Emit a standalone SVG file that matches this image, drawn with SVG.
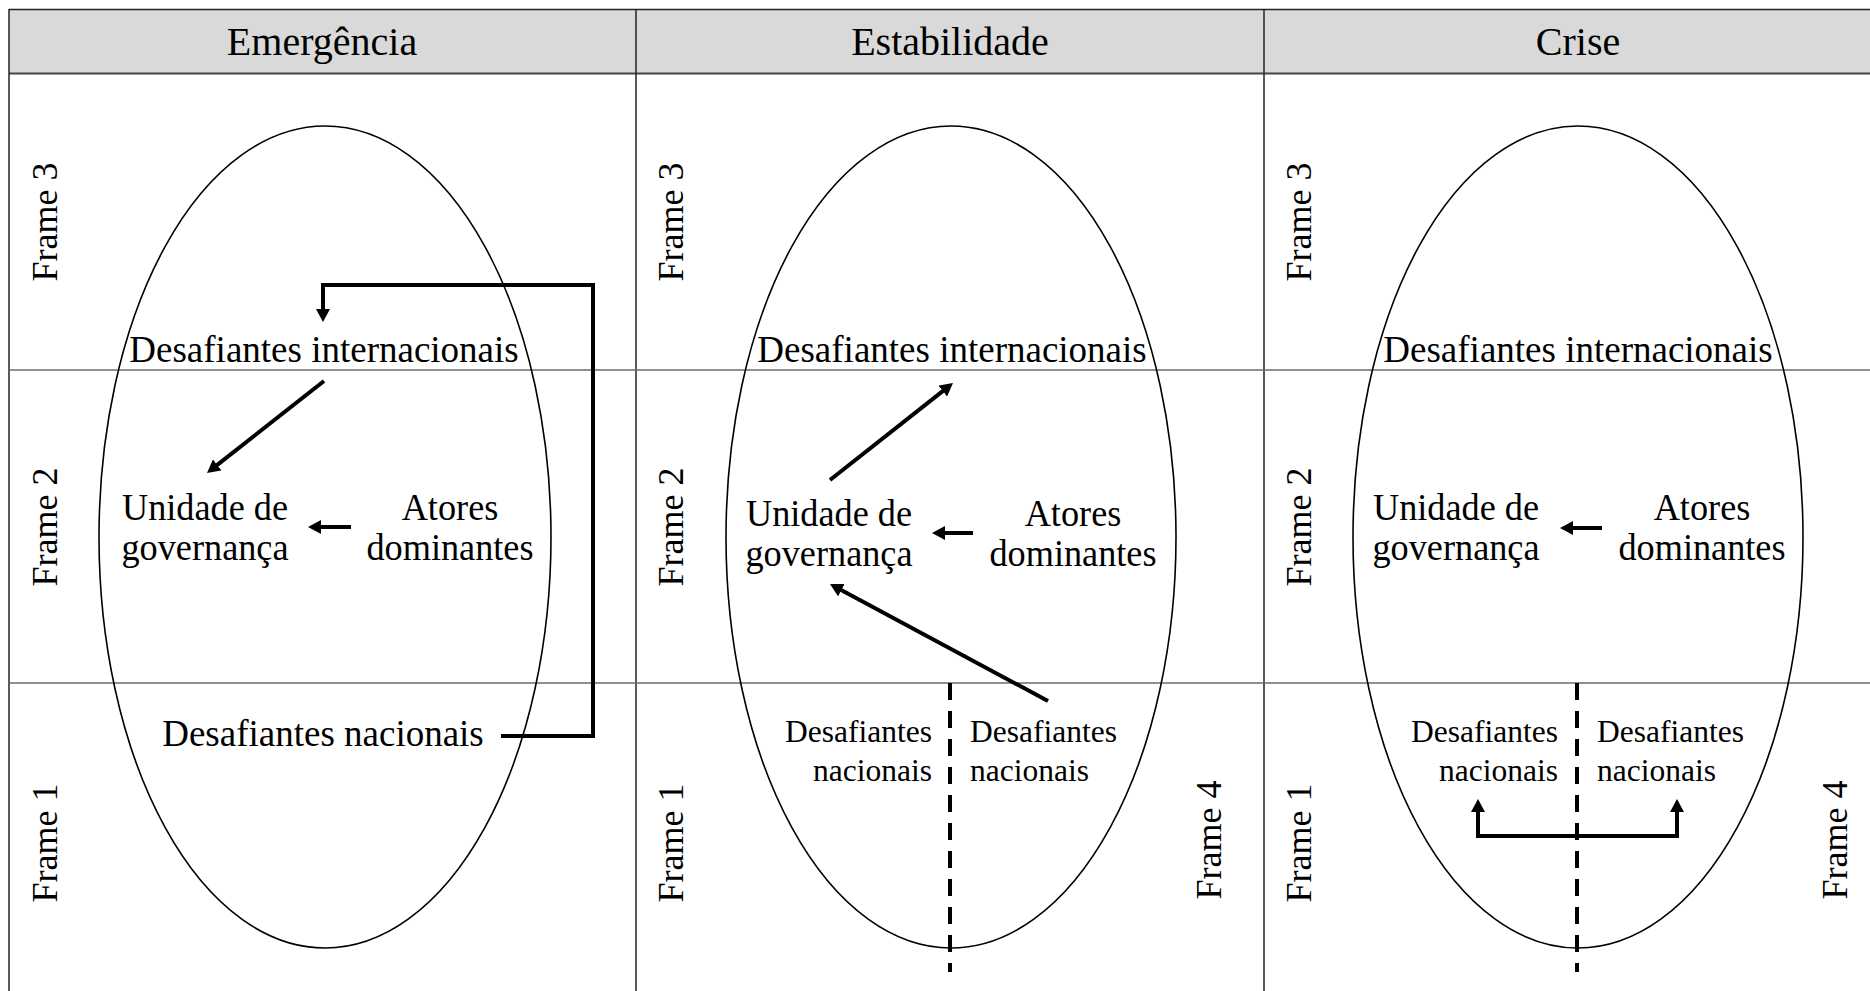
<svg xmlns="http://www.w3.org/2000/svg" width="1870" height="991" viewBox="0 0 1870 991">
<style>
text{font-family:"Liberation Serif","Times New Roman",serif;fill:#000}
.hd{font-size:40px;text-anchor:middle}
.fr{font-size:36px;text-anchor:middle}
.tx{font-size:37px;text-anchor:middle}
.tl{font-size:39px;text-anchor:middle}
.sm{font-size:31.5px}
.grid{stroke:#222;stroke-width:1.5;fill:none}
.row{stroke:#6b6b6b;stroke-width:1.5}
.ell{fill:none;stroke:#000;stroke-width:1.6}
.con{fill:none;stroke:#000;stroke-width:4}
.dash{fill:none;stroke:#000;stroke-width:4;stroke-dasharray:17 11}
</style>
<defs>
<marker id="ah" viewBox="0 0 13 14" markerUnits="userSpaceOnUse" markerWidth="13" markerHeight="14" refX="4" refY="7" orient="auto-start-reverse">
<path d="M0,0 L13,7 L0,14 z" fill="#000"/>
</marker>
</defs>
<rect x="0" y="0" width="1870" height="991" fill="#fff"/>
<g id="table">
<rect x="9" y="9.5" width="1861" height="64" fill="#d9d9d9"/>
<line class="grid" x1="9" y1="9.5" x2="1870" y2="9.5"/>
<line x1="9" y1="73.5" x2="1870" y2="73.5" stroke="#444" stroke-width="2"/>
<line class="grid" x1="9" y1="9" x2="9" y2="991"/>
<line class="grid" x1="636" y1="9" x2="636" y2="991"/>
<line class="grid" x1="1264" y1="9" x2="1264" y2="991"/>
<line class="row" x1="9" y1="370" x2="1870" y2="370"/>
<line class="row" x1="9" y1="683" x2="1870" y2="683"/>
</g>
<g id="headers">
<text class="hd" x="322" y="55">Emergência</text>
<text class="hd" x="950" y="55">Estabilidade</text>
<text class="hd" x="1578" y="55">Crise</text>
</g>
<g id="frame-labels">
<text class="fr" transform="translate(57,222) rotate(-90)">Frame 3</text>
<text class="fr" transform="translate(57,527) rotate(-90)">Frame 2</text>
<text class="fr" transform="translate(57,843) rotate(-90)">Frame 1</text>
<text class="fr" transform="translate(683,222) rotate(-90)">Frame 3</text>
<text class="fr" transform="translate(683,527) rotate(-90)">Frame 2</text>
<text class="fr" transform="translate(683,843) rotate(-90)">Frame 1</text>
<text class="fr" transform="translate(1221,840) rotate(-90)">Frame 4</text>
<text class="fr" transform="translate(1311,222) rotate(-90)">Frame 3</text>
<text class="fr" transform="translate(1311,527) rotate(-90)">Frame 2</text>
<text class="fr" transform="translate(1311,843) rotate(-90)">Frame 1</text>
<text class="fr" transform="translate(1847,840) rotate(-90)">Frame 4</text>
</g>
<g id="ellipse-emergencia"><ellipse class="ell" cx="325" cy="537" rx="226" ry="411"/></g>
<g id="ellipse-estabilidade"><ellipse class="ell" cx="951" cy="537" rx="225" ry="411"/></g>
<g id="ellipse-crise"><ellipse class="ell" cx="1578" cy="537" rx="225" ry="411"/></g>
<g id="e-desafiantes-internacionais"><text class="tx" x="324" y="362">Desafiantes internacionais</text></g>
<g id="e-unidade"><text class="tl" transform="translate(205,520) scale(0.93,1)">Unidade de</text><text class="tl" transform="translate(205,560) scale(0.93,1)">governança</text></g>
<g id="e-atores"><text class="tl" transform="translate(450,520) scale(0.93,1)">Atores</text><text class="tl" transform="translate(450,560) scale(0.93,1)">dominantes</text></g>
<g id="e-desafiantes-nacionais"><text class="tx" x="323" y="746">Desafiantes nacionais</text></g>
<g id="s-desafiantes-internacionais"><text class="tx" x="952" y="362">Desafiantes internacionais</text></g>
<g id="s-unidade"><text class="tl" transform="translate(829,526) scale(0.93,1)">Unidade de</text><text class="tl" transform="translate(829,566) scale(0.93,1)">governança</text></g>
<g id="s-atores"><text class="tl" transform="translate(1073,526) scale(0.93,1)">Atores</text><text class="tl" transform="translate(1073,566) scale(0.93,1)">dominantes</text></g>
<g id="s-nacionais-1"><text class="sm" x="932" y="742" text-anchor="end">Desafiantes</text><text class="sm" x="932" y="781" text-anchor="end">nacionais</text></g>
<g id="s-nacionais-4"><text class="sm" x="970" y="742">Desafiantes</text><text class="sm" x="970" y="781">nacionais</text></g>
<g id="c-desafiantes-internacionais"><text class="tx" x="1578" y="362">Desafiantes internacionais</text></g>
<g id="c-unidade"><text class="tl" transform="translate(1456,520) scale(0.93,1)">Unidade de</text><text class="tl" transform="translate(1456,560) scale(0.93,1)">governança</text></g>
<g id="c-atores"><text class="tl" transform="translate(1702,520) scale(0.93,1)">Atores</text><text class="tl" transform="translate(1702,560) scale(0.93,1)">dominantes</text></g>
<g id="c-nacionais-1"><text class="sm" x="1558" y="742" text-anchor="end">Desafiantes</text><text class="sm" x="1558" y="781" text-anchor="end">nacionais</text></g>
<g id="c-nacionais-4"><text class="sm" x="1597" y="742">Desafiantes</text><text class="sm" x="1597" y="781">nacionais</text></g>
<g id="connectors">
<path class="con" d="M501,736 H593 V285 H323 V313" marker-end="url(#ah)"/>
<path class="con" d="M324,381 L214.1,467.4" marker-end="url(#ah)"/>
<path class="con" d="M351,527 H317" marker-end="url(#ah)"/>
<path class="con" d="M830,480 L945.9,388.6" marker-end="url(#ah)"/>
<path class="con" d="M1048,701 L837.9,588.3" marker-end="url(#ah)"/>
<path class="con" d="M973,533 H941" marker-end="url(#ah)"/>
<path class="dash" d="M950,683 V972"/>
<path class="con" d="M1602,528 H1569" marker-end="url(#ah)"/>
<path class="dash" d="M1577,683 V972"/>
<path class="con" d="M1478,808 V836 H1677 V808" marker-start="url(#ah)" marker-end="url(#ah)"/>
</g>
</svg>
